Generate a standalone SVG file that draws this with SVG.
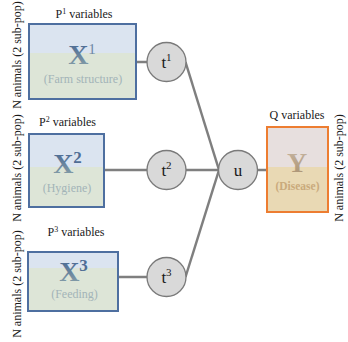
<svg xmlns="http://www.w3.org/2000/svg" width="348" height="342" viewBox="0 0 348 342" font-family="'Liberation Serif', 'Times New Roman', 'DejaVu Serif', serif">
  <defs>
    <linearGradient id="xGrad" x1="0" y1="0" x2="0" y2="1">
      <stop offset="0" stop-color="#3f5f8f"/>
      <stop offset="1" stop-color="#8ea6ab"/>
    </linearGradient>
    <linearGradient id="yGrad" x1="0" y1="0" x2="0" y2="1">
      <stop offset="0" stop-color="#c9b8a6"/>
      <stop offset="1" stop-color="#a8906e"/>
    </linearGradient>
  </defs>
  <style>
    .side { font-size: 12px; fill: #1a1a1a; }
    .title { font-size: 12px; fill: #1a1a1a; }
    .xtop { fill: #dbe4f0; }
    .xbot { fill: #dde5d7; }
    .xframe { fill: none; stroke: #4e6fa0; stroke-width: 2; }
    .big { font-size: 28px; font-weight: bold; fill: url(#xGrad); }
    .sub { font-size: 12px; fill: #a3b4b8; }
    .circ { fill: #d9d9d9; stroke: #7a7a7a; stroke-width: 1.3; }
    .clabel { font-size: 17px; fill: #1a1a1a; }
    .link { stroke: #7f7f7f; stroke-width: 2.5; fill: none; }
  </style>

  <!-- connectors -->
  <g id="connectors">
    <line class="link" x1="136" y1="62" x2="148" y2="62"/>
    <line class="link" x1="104" y1="170" x2="148" y2="170"/>
    <line class="link" x1="118" y1="277" x2="148" y2="277"/>
    <line class="link" x1="185.5" y1="62" x2="219" y2="170"/>
    <line class="link" x1="186" y1="170" x2="219" y2="170"/>
    <line class="link" x1="185.5" y1="277" x2="219" y2="170"/>
    <line class="link" x1="257.5" y1="170" x2="267" y2="170"/>
  </g>

  <!-- block X1 -->
  <g id="x1">
    <text class="side" transform="translate(21,55) rotate(-90)" text-anchor="middle">N animals (2 sub-pop)</text>
    <text class="title" x="84" y="18" text-anchor="middle">P<tspan font-size="8" dy="-4">1</tspan><tspan dy="4"> variables</tspan></text>
    <rect class="xtop" x="29" y="24" width="107" height="29"/>
    <rect class="xbot" x="29" y="53" width="107" height="46"/>
    <rect class="xframe" x="29" y="24" width="107" height="75"/>
    <text x="82" y="64" text-anchor="middle"><tspan class="big">X</tspan><tspan font-size="15" fill="#6f88a6" dy="-10">1</tspan></text>
    <text class="sub" x="83" y="83" text-anchor="middle">(Farm structure)</text>
  </g>

  <!-- block X2 -->
  <g id="x2">
    <text class="side" transform="translate(21,168) rotate(-90)" text-anchor="middle">N animals (2 sub-pop)</text>
    <text class="title" x="67.5" y="126" text-anchor="middle">P<tspan font-size="8" dy="-4">2</tspan><tspan dy="4"> variables</tspan></text>
    <rect class="xtop" x="29" y="134" width="75" height="33"/>
    <rect class="xbot" x="29" y="167" width="75" height="40"/>
    <rect class="xframe" x="29" y="134" width="75" height="73"/>
    <text x="67.5" y="173" text-anchor="middle"><tspan class="big">X</tspan><tspan font-size="17" font-weight="bold" fill="#4f6d95" dy="-10">2</tspan></text>
    <text class="sub" x="67" y="192" text-anchor="middle">(Hygiene)</text>
  </g>

  <!-- block X3 -->
  <g id="x3">
    <text class="side" transform="translate(21,284) rotate(-90)" text-anchor="middle">N animals (2 sub-pop)</text>
    <text class="title" x="76" y="236" text-anchor="middle">P<tspan font-size="8" dy="-4">3</tspan><tspan dy="4"> variables</tspan></text>
    <rect class="xtop" x="28" y="252" width="90" height="16"/>
    <rect class="xbot" x="28" y="268" width="90" height="43"/>
    <rect class="xframe" x="28" y="252" width="90" height="59"/>
    <text x="73.5" y="281" text-anchor="middle"><tspan class="big">X</tspan><tspan font-size="17" font-weight="bold" fill="#4f6d95" dy="-10">3</tspan></text>
    <text class="sub" x="74.5" y="298" text-anchor="middle">(Feeding)</text>
  </g>

  <!-- latent scores -->
  <g id="t1">
    <circle class="circ" cx="166.5" cy="62" r="19.5"/>
    <text class="clabel" x="166.5" y="68" text-anchor="middle">t<tspan font-size="11" dy="-7">1</tspan></text>
  </g>
  <g id="t2">
    <circle class="circ" cx="166.5" cy="170" r="19.5"/>
    <text class="clabel" x="166.5" y="176" text-anchor="middle">t<tspan font-size="11" dy="-7">2</tspan></text>
  </g>
  <g id="t3">
    <circle class="circ" cx="166.5" cy="277" r="19.5"/>
    <text class="clabel" x="166.5" y="283" text-anchor="middle">t<tspan font-size="11" dy="-7">3</tspan></text>
  </g>
  <g id="u">
    <circle class="circ" cx="238" cy="170" r="19.5"/>
    <text class="clabel" x="238" y="175.5" text-anchor="middle">u</text>
  </g>

  <!-- block Y -->
  <g id="y">
    <text class="title" x="297" y="119" text-anchor="middle">Q variables</text>
    <rect x="267" y="127" width="61" height="40" fill="#e7dfde"/>
    <rect x="267" y="167" width="61" height="45" fill="#e9d9b4"/>
    <rect x="267" y="127" width="61" height="85" fill="none" stroke="#ed7d31" stroke-width="2"/>
    <text x="297" y="172" text-anchor="middle" font-size="28" font-weight="bold" fill="url(#yGrad)">Y</text>
    <text x="297.5" y="190" text-anchor="middle" font-size="11.5" font-weight="bold" fill="#c9aa7c">(Disease)</text>
    <text class="side" transform="translate(343,168) rotate(-90)" text-anchor="middle" font-size="11.5">N animals (2 sub-pop)</text>
  </g>
</svg>
